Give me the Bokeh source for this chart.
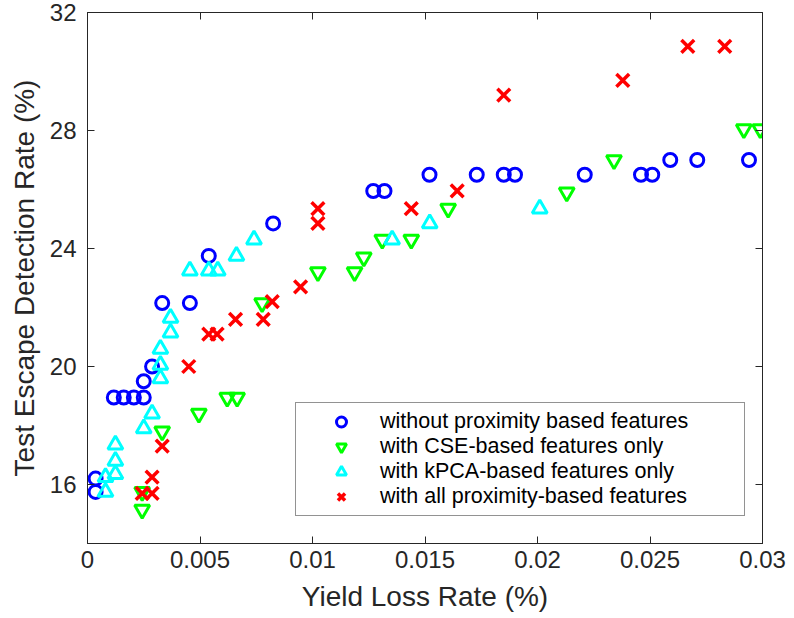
from bokeh.plotting import figure
from bokeh.models import LinearAxis, FixedTicker, Range1d, Legend, LegendItem
from bokeh.embed import file_html
from bokeh.resources import INLINE

# ---- data ----
x_ticks = [0, 0.005, 0.01, 0.015, 0.02, 0.025, 0.03]
x_tick_labels = ["0", "0.005", "0.01", "0.015", "0.02", "0.025", "0.03"]
y_ticks = [16, 20, 24, 28, 32]
y_tick_labels = ["16", "20", "24", "28", "32"]

without_x = [0.00036, 0.00036, 0.00117, 0.00161, 0.00206, 0.0025, 0.0025, 0.00287,
             0.00332, 0.00455, 0.00539, 0.00825, 0.0127, 0.0132, 0.0152, 0.0173,
             0.0185, 0.0190, 0.0221, 0.0246, 0.0251, 0.0259, 0.0271, 0.0294]
without_y = [16.2, 15.75, 18.95, 18.95, 18.95, 18.95, 19.5, 20.0,
             22.15, 22.15, 23.75, 24.85, 25.95, 25.95, 26.5, 26.5,
             26.5, 26.5, 26.5, 26.5, 26.5, 27.0, 27.0, 27.0]

cse_x = [0.00243, 0.00243, 0.00332, 0.00495, 0.00621, 0.00665, 0.00776, 0.01024,
         0.01187, 0.01228, 0.0131, 0.01439, 0.01603, 0.0213, 0.0234, 0.02917, 0.0299]
cse_y = [15.15, 15.75, 17.8, 18.4, 18.95, 18.95, 22.15, 23.2,
         23.2, 23.7, 24.3, 24.3, 25.35, 25.9, 27.0, 28.05, 28.05]

kpca_x = [0.0008, 0.0008, 0.00124, 0.00124, 0.00124, 0.0025, 0.00287, 0.00324,
          0.00324, 0.00324, 0.00369, 0.00369, 0.00455, 0.00539, 0.00579, 0.00662,
          0.0074, 0.01354, 0.01521, 0.0201]
kpca_y = [15.75, 16.25, 16.35, 16.8, 17.35, 17.9, 18.4, 19.6,
          20.05, 20.6, 21.15, 21.65, 23.25, 23.25, 23.25, 23.75,
          24.3, 24.3, 24.85, 25.35]

all_x = [0.00243, 0.00287, 0.00287, 0.00332, 0.0045, 0.00539, 0.00576, 0.00658,
         0.00781, 0.00821, 0.00947, 0.01024, 0.01024, 0.01439, 0.01643, 0.0185,
         0.02379, 0.02668, 0.02832]
all_y = [15.7, 15.7, 16.25, 17.3, 20.0, 21.1, 21.1, 21.6,
         21.6, 22.2, 22.7, 24.85, 25.35, 25.35, 25.95, 29.2,
         29.7, 30.85, 30.85]

labels = ["without proximity based features",
          "with CSE-based features only",
          "with kPCA-based features only",
          "with all proximity-based features"]

# ---- figure ----
AX = "#262626"
FONT = "Liberation Sans, Arial, Helvetica, sans-serif"

p = figure(width=786, height=616, output_backend="svg", toolbar_location=None,
           x_range=Range1d(0, 0.03), y_range=Range1d(14, 32),
           x_axis_label="Yield Loss Rate (%)",
           y_axis_label="Test Escape Detection Rate (%)",
           min_border_left=87, min_border_right=24, min_border_top=12,
           min_border_bottom=73)
p.grid.visible = False
p.outline_line_color = AX
p.background_fill_color = "white"

xt = FixedTicker(ticks=x_ticks)
yt = FixedTicker(ticks=y_ticks)

bottom = p.below[0]
left = p.left[0]

bottom.ticker = xt
bottom.major_label_overrides = {t: l for t, l in zip(x_ticks, x_tick_labels)}
bottom.major_label_standoff = 7
bottom.axis_label_standoff = 10

left.ticker = yt
left.major_label_overrides = {t: l for t, l in zip(y_ticks, y_tick_labels)}
left.major_label_standoff = 11
left.axis_label_standoff = 7

top = LinearAxis(ticker=xt, major_label_standoff=0,
                 major_label_overrides={t: "" for t in x_ticks})
right = LinearAxis(ticker=yt, major_label_standoff=0,
                   major_label_overrides={t: "" for t in y_ticks})
p.add_layout(top, "above")
p.add_layout(right, "right")

for ax in [bottom, left, top, right]:
    ax.axis_line_color = AX
    ax.major_tick_line_color = AX
    ax.major_tick_in = 7
    ax.major_tick_out = 0
    ax.minor_tick_line_color = None
    ax.major_label_text_font = FONT
    ax.major_label_text_font_size = "24px"
    ax.major_label_text_color = AX
    ax.axis_label_text_font = FONT
    ax.axis_label_text_font_size = "28px"
    ax.axis_label_text_font_style = "normal"
    ax.axis_label_text_color = AX

r1 = p.scatter(without_x, without_y, marker="circle", size=13, fill_color=None,
               line_color="#0000ff", line_width=3)
r2 = p.scatter(cse_x, cse_y, marker="inverted_triangle", size=15, fill_color=None,
               line_color="#00ff00", line_width=3)
r3 = p.scatter(kpca_x, kpca_y, marker="triangle", size=15, fill_color=None,
               line_color="#00ffff", line_width=3)
r4 = p.scatter(all_x, all_y, marker="x", size=18, line_color="#ff0000", line_width=3.5)

legend = Legend(items=[LegendItem(label=l, renderers=[r]) for l, r in zip(labels, [r1, r2, r3, r4])],
                location=(208, 27), margin=0, padding=6,
                glyph_width=78, glyph_height=25, spacing=0, label_standoff=0,
                label_width=358, label_height=25,
                label_text_font=FONT, label_text_font_size="21.5px", label_text_color="black",
                border_line_color=AX, border_line_width=1,
                background_fill_color="white", background_fill_alpha=1.0)
p.add_layout(legend, "center")

open("out.html", "w").write(file_html(p, INLINE))
